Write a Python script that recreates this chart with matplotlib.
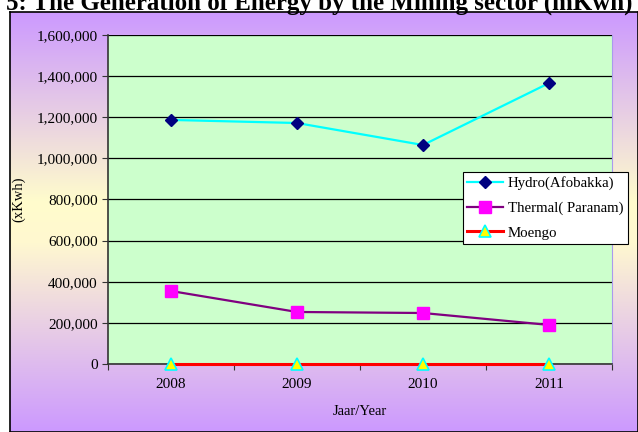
import numpy as np
import matplotlib
matplotlib.use("Agg")
import matplotlib.pyplot as plt
from matplotlib.colors import LinearSegmentedColormap
from matplotlib.ticker import FuncFormatter, FixedLocator

# data
years   = ["2008", "2009", "2010", "2011"]
hydro   = [1187000, 1172000, 1065000, 1366000]
thermal = [355000, 253000, 248000, 190000]
moengo  = [0, 0, 0, 0]

plt.rcParams["font.family"] = ["Liberation Serif", "DejaVu Serif"]

W, H = 638, 432
fig = plt.figure(figsize=(W / 100, H / 100), dpi=100)

# chart area background (vertical gradient purple -> cream -> purple)
bg = fig.add_axes([10 / W, 0, 1 - 10 / W, 1 - 12 / H], zorder=0)
cmap = LinearSegmentedColormap.from_list(
    "bg", [(0.0, "#cc99ff"), (0.45, "#fffccc"), (0.55, "#fff8d0"), (1.0, "#cc99ff")])
grad = np.linspace(0, 1, 256).reshape(-1, 1)
bg.imshow(grad, aspect="auto", cmap=cmap, extent=[0, 1, 0, 1], origin="upper")
bg.set_xlim(0, 1)
bg.set_ylim(0, 1)
bg.set_xticks([])
bg.set_yticks([])
for s in bg.spines.values():
    s.set_color("black")
    s.set_linewidth(1.2)

# title, partly cut off at the top as in the source
fig.text(0.5, 1 - 10 / H, "5: The Generation of Energy by the Mining sector (mKwh)",
         ha="center", va="baseline", fontsize=18, fontweight="bold")

ax = fig.add_axes([108 / W, 1 - 364 / H, 504 / W, 329 / H], zorder=1)
ax.set_facecolor("#ccffcc")
x = np.arange(len(years))

ax.plot(x, hydro, color="#00ffff", lw=1.6, marker="D", ms=6,
        mfc="#000080", mec="#000080", label="Hydro(Afobakka)", zorder=3)
ax.plot(x, thermal, color="#800080", lw=1.6, marker="s", ms=8,
        mfc="#ff00ff", mec="#ff00ff", label="Thermal( Paranam)", zorder=3)
ax.plot(x, moengo, color="#ff0000", lw=2.2, marker="^", ms=9,
        mfc="#ffff00", mec="#00ffff", mew=1.2, label="Moengo", zorder=4,
        clip_on=False)

ax.set_xlim(-0.5, 3.5)
ax.set_ylim(0, 1600000)
ax.set_yticks(np.arange(0, 1600001, 200000))
ax.yaxis.set_major_formatter(FuncFormatter(lambda v, p: f"{int(v):,}"))
ax.grid(axis="y", color="black", lw=0.9)
ax.set_axisbelow(True)

# category labels centered, tick marks between categories
ax.xaxis.set_major_locator(FixedLocator(np.arange(-0.5, 4, 1)))
ax.xaxis.set_minor_locator(FixedLocator(x))
ax.set_xticklabels([])
ax.set_xticklabels(years, minor=True)
ax.tick_params(axis="x", which="minor", length=0, pad=10, labelsize=11)
ax.tick_params(axis="x", which="major", length=4, direction="out", color="#333333")
ax.tick_params(axis="y", length=4, direction="out", labelsize=11, color="#333333")

for s in ["left", "bottom"]:
    ax.spines[s].set_color("#333333")
    ax.spines[s].set_linewidth(1.2)
ax.spines["top"].set_visible(False)
ax.spines["right"].set_color("#aa99ee")

ax.set_xlabel("Jaar/Year", fontsize=10.5, labelpad=10)
ax.set_ylabel("(xKwh)", fontsize=10.5, labelpad=8)

leg = ax.legend(loc="upper left", bbox_to_anchor=((463 - 108) / 504, (364 - 172) / 329),
                fontsize=10.7, frameon=True, fancybox=False, framealpha=1,
                edgecolor="black", handlelength=2.4, borderpad=0.3,
                labelspacing=0.75, handletextpad=0.3, borderaxespad=0)
leg.get_frame().set_linewidth(0.8)

fig.savefig("out.png", dpi=100)
